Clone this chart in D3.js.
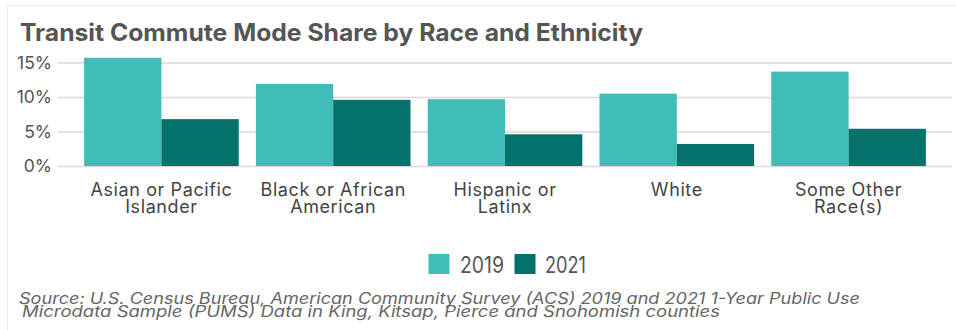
<!DOCTYPE html>
<html>
<head>
<meta charset="utf-8">
<script src="https://cdn.jsdelivr.net/npm/d3@7"></script>
<style>
  html, body { margin: 0; padding: 0; background: #fff; }
  svg { display: block; }
</style>
</head>
<body>
<svg id="chart" width="956" height="330"></svg>
<script>
// Transit commute mode share (%) by race and ethnicity, 2019 vs 2021
const categories = [
  "Asian or Pacific Islander",
  "Black or African American",
  "Hispanic or Latinx",
  "White",
  "Some Other Race(s)"
];
const categoryLines = [
  ["Asian or Pacific", "Islander"],
  ["Black or African", "American"],
  ["Hispanic or", "Latinx"],
  ["White"],
  ["Some Other", "Race(s)"]
];
const years = ["2019", "2021"];
const share2019 = [15.7, 11.9, 9.7, 10.5, 13.7];
const share2021 = [6.8, 9.6, 4.6, 3.2, 5.4];
const yTicks = [0, 5, 10, 15];

const colors = { "2019": "#40bdb8", "2021": "#04716b" };
const fontFamily = "Inter, 'Noto Sans', sans-serif";

const rows = categories.map((c, i) => ({
  category: c,
  lines: categoryLines[i],
  values: [
    { year: "2019", value: share2019[i] },
    { year: "2021", value: share2021[i] }
  ]
}));

const svg = d3.select("#chart");

// stretch or squeeze a text element to an exact width
function fitWidth(sel, w) {
  sel.attr("textLength", w).attr("lengthAdjust", "spacingAndGlyphs");
}

// thin frame on the top and left edges
svg.append("line").attr("x1", 7).attr("x2", 956).attr("y1", 5.5).attr("y2", 5.5)
  .attr("stroke", "#eeeeee").attr("stroke-width", 1);
svg.append("line").attr("x1", 7.5).attr("x2", 7.5).attr("y1", 5).attr("y2", 330)
  .attr("stroke", "#eeeeee").attr("stroke-width", 1);

// title
svg.append("text")
  .attr("x", 20).attr("y", 41)
  .attr("font-family", fontFamily)
  .attr("font-weight", 700)
  .attr("font-size", 24)
  .attr("fill", "#555555")
  .text("Transit Commute Mode Share by Race and Ethnicity")
  .call(fitWidth, 623);

// scales
const x = d3.scaleBand()
  .domain(categories)
  .range([58, 952])
  .paddingInner(0.1)
  .paddingOuter(0.152);

const xYear = d3.scaleBand()
  .domain(years)
  .range([0, x.bandwidth()])
  .padding(0);

const y = d3.scaleLinear()
  .domain([0, 15])
  .range([166, 62.6]);

// gridlines + y labels
const yAxis = d3.axisLeft(y)
  .tickValues(yTicks)
  .tickSize(-(952 - 58))
  .tickPadding(6)
  .tickFormat(d => d + "%");

const gy = svg.append("g")
  .attr("transform", "translate(58,0)")
  .call(yAxis);
gy.select(".domain").remove();
gy.selectAll(".tick line").attr("stroke", "#d9d9d9").attr("stroke-width", 1.5);
gy.selectAll(".tick text")
  .attr("font-family", fontFamily)
  .attr("font-size", 17.5)
  .attr("fill", "#555555");

// bars
const groups = svg.append("g")
  .selectAll("g")
  .data(rows)
  .join("g")
  .attr("transform", d => `translate(${x(d.category)},0)`);

groups.selectAll("rect")
  .data(d => d.values)
  .join("rect")
  .attr("x", d => xYear(d.year))
  .attr("width", xYear.bandwidth())
  .attr("y", d => y(d.value))
  .attr("height", d => y(0) - y(d.value))
  .attr("fill", d => colors[d.year]);

// category labels
const labels = svg.append("g")
  .selectAll("text")
  .data(rows)
  .join("text")
  .attr("x", d => x(d.category) + x.bandwidth() / 2)
  .attr("y", 196)
  .attr("text-anchor", "middle")
  .attr("font-family", fontFamily)
  .attr("font-size", 18)
  .attr("letter-spacing", 0.6)
  .attr("fill", "#444444");

labels.selectAll("tspan")
  .data(d => d.lines)
  .join("tspan")
  .attr("x", function() { return d3.select(this.parentNode).attr("x"); })
  .attr("dy", (d, i) => i === 0 ? 0 : 16.5)
  .text(d => d);

// legend
const legendItems = [
  { year: "2019", sx: 428.5, tx: 460, tw: 44 },
  { year: "2021", sx: 514.5, tx: 545, tw: 41 }
];
const legend = svg.append("g");
legend.selectAll("rect")
  .data(legendItems)
  .join("rect")
  .attr("x", d => d.sx).attr("y", 254)
  .attr("width", 21).attr("height", 20)
  .attr("fill", d => colors[d.year]);
legend.selectAll("text")
  .data(legendItems)
  .join("text")
  .attr("x", d => d.tx).attr("y", 273)
  .attr("font-family", fontFamily)
  .attr("font-size", 23)
  .attr("fill", "#555555")
  .text(d => d.year)
  .each(function(d) { d3.select(this).call(fitWidth, d.tw); });

// source note
const sourceLines = [
  { text: "Source: U.S. Census Bureau, American Community Survey (ACS) 2019 and 2021 1-Year Public Use", x: 19, y: 304, w: 841 },
  { text: "Microdata Sample (PUMS) Data in King, Kitsap, Pierce and Snohomish counties", x: 22, y: 316.5, w: 698 }
];
svg.append("g")
  .selectAll("text")
  .data(sourceLines)
  .join("text")
  .attr("x", d => d.x).attr("y", d => d.y)
  .attr("font-family", fontFamily)
  .attr("font-style", "italic")
  .attr("font-size", 15.5)
  .attr("fill", "#666666")
  .text(d => d.text)
  .each(function(d) { d3.select(this).call(fitWidth, d.w); });
</script>
</body>
</html>
